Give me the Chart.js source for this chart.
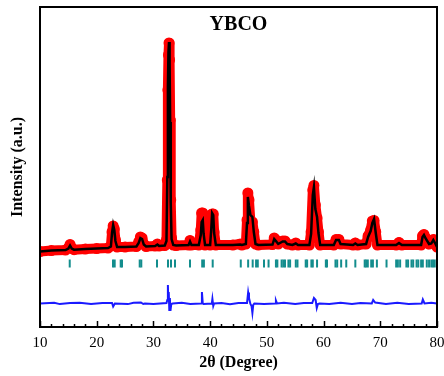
<!DOCTYPE html>
<html>
<head>
<meta charset="utf-8">
<script src="https://cdn.jsdelivr.net/npm/chart.js@4.4.1/dist/chart.umd.min.js"></script>
<style>
    html, body { margin: 0; padding: 0; background: #fff; }
    #chartXrd { display: block; }
</style>
</head>
<body>
<canvas id="chartXrd" width="444" height="376"></canvas>
<script>
// observed / calculated profile (2theta in degrees, intensity in a.u.)
const twoTheta = [
    10.0, 12.0, 14.5, 15.0, 15.3, 15.6, 16.0, 18.0, 20.0, 22.0,
    22.5, 22.7, 22.9, 23.1, 23.3, 23.6, 25.0, 27.0, 27.4, 27.7,
    28.0, 28.3, 28.7, 30.3, 30.7, 31.0, 32.0, 32.3, 32.45, 32.55,
    32.65, 32.75, 32.85, 32.95, 33.05, 33.2, 33.5, 34.0, 36.2, 36.45,
    36.7, 38.0, 38.35, 38.5, 38.7, 38.85, 39.1, 40.0, 40.2, 40.35,
    40.55, 40.7, 41.0, 44.0, 45.3, 45.6, 46.3, 46.5, 46.65, 46.85,
    47.1, 47.45, 47.7, 48.0, 48.5, 51.0, 51.3, 51.6, 52.0, 52.8,
    53.2, 53.6, 54.5, 55.1, 55.5, 57.5, 57.8, 58.1, 58.3, 58.55,
    58.85, 59.1, 59.4, 61.8, 62.2, 62.7, 63.0, 65.2, 65.6, 66.0,
    67.5, 67.85, 68.3, 68.6, 68.9, 69.2, 69.5, 72.8, 73.3, 73.8,
    77.2, 77.45, 77.7, 78.0, 78.6, 79.0, 79.35, 79.7, 80.0
];

const yObs = [
    75.5, 76.5, 77, 79, 82.5, 79, 77.3, 78, 78.5, 79,
    81, 95, 101, 98, 87, 80, 80, 80.5, 85, 90,
    89, 83, 80.5, 81, 83, 81, 81.5, 87, 147, 237,
    272, 284, 267, 207, 127, 89, 82, 81.5, 82, 86.5,
    82, 82, 97, 114, 114, 97, 82, 82, 99, 113,
    113, 95, 82, 82, 83, 82, 83, 107, 134, 127,
    105, 105, 95, 83, 82, 82.5, 89, 87, 83, 86,
    86, 83, 82, 84, 82, 82, 95, 137, 141.5, 122,
    109, 95, 82, 82, 87.5, 87.5, 83, 82, 84, 82,
    83, 91, 97, 106, 106.5, 95, 82, 82, 84.5, 82,
    82, 91, 92.5, 89, 83, 84, 87.5, 84, 80
];

const yCalc = [
    75.5, 76.5, 77, 78.5, 81.5, 78.5, 77.3, 78, 78.5, 79,
    80.5, 94, 102, 97, 86, 80, 80, 80.5, 84, 89,
    88, 82.5, 80.5, 81, 82.5, 81, 81.5, 86, 150, 240,
    275, 285, 265, 205, 125, 88, 82, 81.5, 82, 85.5,
    82, 82, 92, 105, 107, 93, 82, 82, 98, 114,
    112, 94, 82, 82, 82.5, 82, 83, 104, 130, 121,
    112, 110, 95, 83, 82, 82.5, 88, 86, 83, 85.5,
    85.5, 83, 82, 83.5, 82, 82, 93, 132, 140, 118,
    110, 94, 82, 82, 87, 87, 83, 82, 83.5, 82,
    83, 90, 96, 104, 108, 94, 82, 82, 84, 82,
    82, 90, 92, 88.5, 83, 83.5, 87, 83.5, 80
];

// difference curve (obs - calc)
const diffTheta = [
    10, 12.5, 13.5, 15.3, 17, 19, 21, 22.7, 22.9, 23.2,
    25.5, 26.5, 27.8, 28.2, 28.5, 30, 32.3, 32.45, 32.55, 32.62,
    32.7, 32.8, 32.9, 33.0, 33.15, 33.4, 35, 36.5, 38.4, 38.55,
    38.7, 38.85, 40.3, 40.4, 40.55, 40.7, 42, 43.5, 45, 46.5,
    46.7, 46.85, 47.1, 47.3, 47.45, 47.6, 47.8, 49.5, 51.5, 51.6,
    51.8, 53, 55, 56.5, 58.0, 58.3, 58.6, 58.8, 59.0, 59.3,
    61, 63, 65, 66.5, 68.5, 68.75, 69.1, 71, 73, 75,
    77.3, 77.5, 77.8, 79, 80
];
const yDiff = [
    0, 0.8, -0.6, 0.5, 0.7, -0.5, 0.6, 0.5, -3, 0,
    -0.6, 0.7, 1, -0.5, 0, -0.5, 0.5, 3.5, 18.5, 3.5,
    11.5, -6.5, 5.5, -7.5, -0.5, 0, 0.7, -0.6, 0, 11.5,
    0, -0.5, 0, 4.5, -2.5, 0, 0.6, -0.7, 0.6, 0.5,
    11, 5.5, -0.5, -2.5, -9.5, -1.5, 0, -0.6, 0, 3,
    0, 0.8, -0.6, 0.6, 0.5, 5.5, 3.5, -4.5, -0.5, 0,
    -0.6, 0.7, -0.6, 0.6, 0, 3.5, 1, -0.5, 0.7, -0.6,
    0, 4, 0, 0.7, 0
];

// Bragg reflection positions
const braggPos = [
    15.24, 22.87, 23.17, 24.23, 24.46, 27.58, 27.86, 30.63, 32.57, 33.1,
    33.8, 36.45, 38.6, 38.9, 40.45, 45.4, 46.7, 47.5, 48.1, 48.4,
    49.5, 50.3, 51.6, 51.85, 52.6, 52.9, 53.2, 53.8, 54.1, 55.1,
    55.4, 56.85, 57.1, 57.85, 58.1, 58.85, 60.4, 60.6, 62.1, 62.4,
    63.1, 64.0, 65.6, 67.25, 67.5, 67.8, 68.4, 68.7, 69.4, 71.1,
    72.8, 73.1, 73.5, 74.6, 74.9, 75.5, 75.8, 76.4, 76.7, 77.2,
    77.5, 78.2, 78.6, 79.0, 79.3, 79.6
];

const xTickLabels = [10, 20, 30, 40, 50, 60, 70, 80];
const xMinorStep = 2;

// vertical placement of the lower panels
const DIFF_OFFSET = 23.5;
const BRAGG_ROW = 63.5;

const SERIF = "'Liberation Serif', 'Times New Roman', serif";

const frameAndTicks = {
    id: 'frameAndTicks',
    afterDraw(chart) {
        const { ctx, chartArea: a, scales: { x } } = chart;
        ctx.save();

        // inward ticks on the bottom axis
        ctx.strokeStyle = '#000';
        ctx.lineWidth = 1.5;
        for (let v = x.min; v <= x.max; v += xMinorStep) {
            const px = Math.round(x.getPixelForValue(v)) + 0.5;
            const len = xTickLabels.includes(v) ? 6 : 3;
            ctx.beginPath();
            ctx.moveTo(px, a.bottom);
            ctx.lineTo(px, a.bottom - len);
            ctx.stroke();
        }

        // frame
        ctx.lineWidth = 2;
        ctx.strokeRect(a.left, a.top, a.right - a.left, a.bottom - a.top);

        // label inside plot
        ctx.fillStyle = '#000';
        ctx.font = 'bold 20px ' + SERIF;
        ctx.textAlign = 'center';
        ctx.textBaseline = 'middle';
        ctx.fillText('YBCO', (a.left + a.right) / 2, a.top + 18);
        ctx.restore();
    }
};

const ctx = document.getElementById('chartXrd').getContext('2d');

new Chart(ctx, {
    type: 'line',
    data: {
        datasets: [
            {
                label: 'Calc',
                data: twoTheta.map((t, i) => ({ x: t, y: yCalc[i] })),
                borderColor: '#000',
                borderWidth: 2.5,
                pointRadius: 0,
                tension: 0,
                order: 0
            },
            {
                label: 'Obs',
                data: twoTheta.map((t, i) => ({ x: t, y: yObs[i] })),
                borderColor: '#ff0000',
                backgroundColor: '#ff0000',
                borderWidth: 10,
                borderJoinStyle: 'round',
                borderCapStyle: 'round',
                pointRadius: 5.5,
                pointBorderWidth: 0,
                pointBackgroundColor: '#ff0000',
                tension: 0,
                order: 1
            },
            {
                label: 'Bragg',
                data: braggPos.map(t => ({ x: t, y: BRAGG_ROW })),
                showLine: false,
                pointStyle: 'line',
                rotation: 90,
                pointRadius: 4,
                borderColor: '#138d8d',
                pointBorderWidth: 2,
                order: 2
            },
            {
                label: 'Diff',
                data: diffTheta.map((t, i) => ({ x: t, y: yDiff[i] + DIFF_OFFSET })),
                borderColor: '#1a1aff',
                borderWidth: 2,
                pointRadius: 0,
                tension: 0,
                order: 3
            }
        ]
    },
    options: {
        responsive: false,
        animation: false,
        devicePixelRatio: 1,
        layout: { padding: { top: 7, right: 7, left: 0, bottom: 0 } },
        plugins: {
            legend: { display: false },
            tooltip: { enabled: false }
        },
        scales: {
            x: {
                type: 'linear',
                min: 10,
                max: 80,
                grid: { display: false, drawTicks: false },
                border: { display: false },
                afterBuildTicks: scale => {
                    scale.ticks = xTickLabels.map(v => ({ value: v }));
                },
                ticks: {
                    color: '#000',
                    padding: 7,
                    maxRotation: 0,
                    font: { family: SERIF, size: 15 }
                },
                title: {
                    display: true,
                    text: '2θ (Degree)',
                    color: '#000',
                    padding: { top: 0, bottom: 4 },
                    font: { family: SERIF, size: 16, weight: 'bold' }
                },
                afterFit: scale => {
                    scale.height = 49;
                    scale.paddingLeft = 0;
                    scale.paddingRight = 0;
                }
            },
            y: {
                type: 'linear',
                min: 0,
                max: 320,
                grid: { display: false, drawTicks: false },
                border: { display: false },
                ticks: { display: false },
                title: {
                    display: true,
                    text: 'Intensity (a.u.)',
                    color: '#000',
                    padding: { top: 8, bottom: 0 },
                    font: { family: SERIF, size: 16, weight: 'bold' }
                },
                afterFit: scale => {
                    scale.width = 40;
                    scale.paddingTop = 0;
                    scale.paddingBottom = 0;
                }
            }
        }
    },
    plugins: [frameAndTicks]
});
</script>
</body>
</html>
